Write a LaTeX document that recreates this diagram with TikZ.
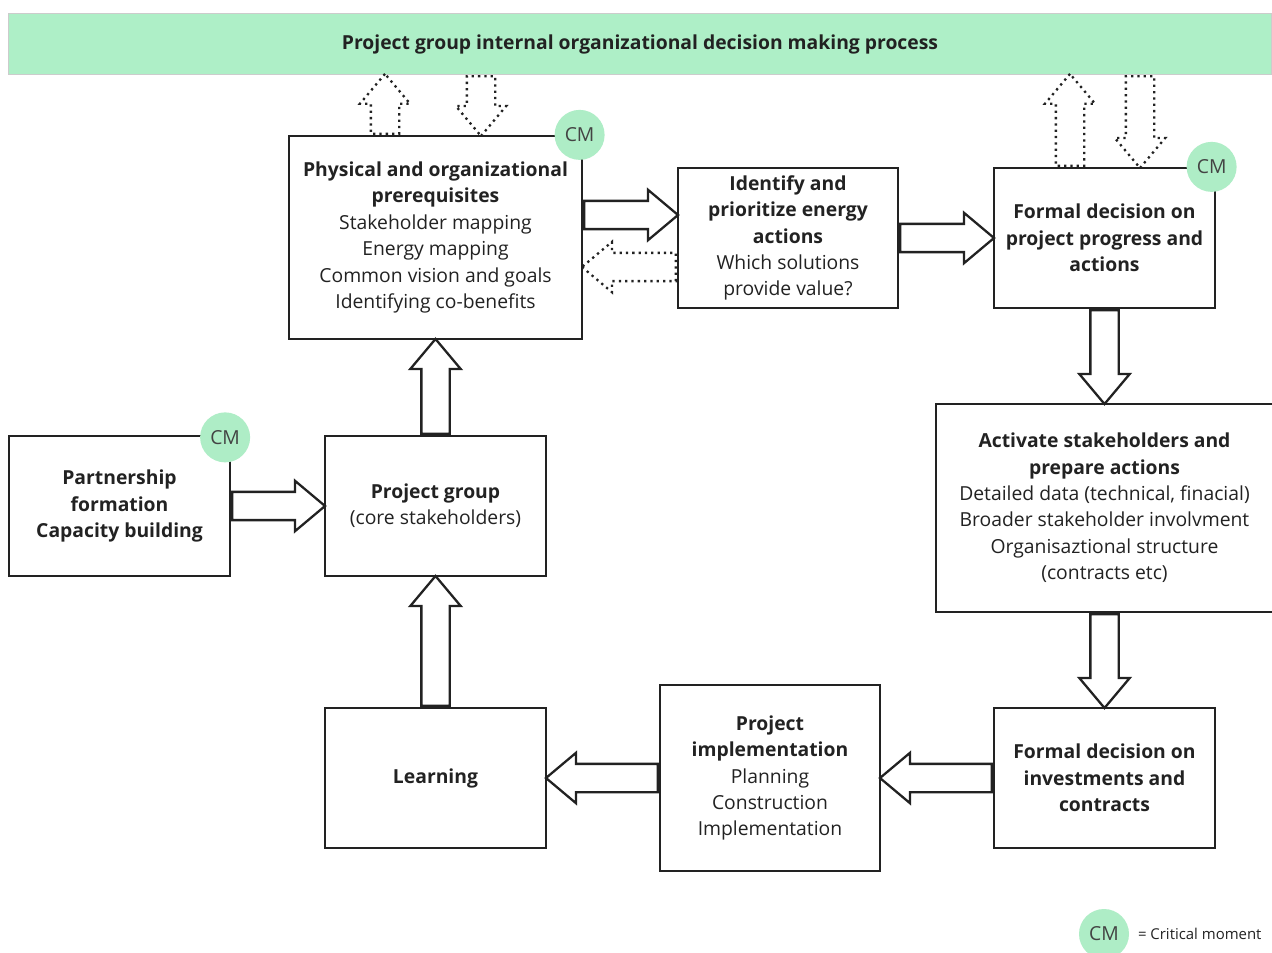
\documentclass[tikz,border=0pt]{standalone}
\usepackage{fontspec}
\setmainfont{Open Sans}
\usetikzlibrary{shapes.arrows, positioning, calc}
\definecolor{cmgreen}{HTML}{AEEDC6}
\definecolor{bargreen}{HTML}{AEEFC7}
\definecolor{ink}{HTML}{222222}
\tikzset{
    box/.style={
        rectangle, draw=ink, line width=1.3pt,
        minimum width=4.42cm, minimum height=2.8cm,
        align=center, text=ink,
        font=\fontsize{11}{15}\selectfont,
    },
    topbar/.style={
        rectangle, draw=gray!40, fill=bargreen, line width=0.6pt,
        minimum width=25.28cm, minimum height=1.22cm,
        font=\fontsize{11}{15}\selectfont\bfseries, text=ink,
    },
    critmark/.style={
        circle, fill=cmgreen, minimum size=1cm, inner sep=0pt,
        font=\fontsize{11}{15}\selectfont, text=ink!85,
    },
    barrow/.style={
        single arrow, draw=ink, fill=white, line width=1.3pt,
        inner xsep=0pt, inner ysep=0.26cm, minimum width=0pt,
        single arrow head extend=0.22cm, single arrow tip angle=80,
    },
    dotarrow/.style={
        barrow, fill=none, dash pattern=on 1.3pt off 2.3pt,
    },
}
% block arrow from one anchor to another
\newcommand{\flow}[3][barrow]{%
    \path let \p1 = ($(#3)-(#2)$),
              \n1 = {veclen(\x1,\y1)},
              \n2 = {atan2(\y1,\x1)} in
        node[#1, minimum height=\n1, rotate=\n2, anchor=tail] at (#2) {};
}

\begin{document}
\begin{tikzpicture}[x=0.02cm, y=-0.02cm]

    \path[fill=white] (0,0) rectangle (1272,953);
    \useasboundingbox (0,0) rectangle (1272,953);

    % -- top process bar --
    \node[topbar] (bar) at (640,44) {Project group internal organizational decision making process};

    % -- upper row --
    \node[box, minimum width=5.86cm, minimum height=4.06cm] (phys) at (435.5,237.5)
        {\textbf{Physical and organizational}\\\textbf{prerequisites}\\Stakeholder mapping\\Energy mapping\\Common vision and goals\\Identifying co-benefits};
    \node[box, minimum width=4.4cm] (ident) at (788,238)
        {\textbf{Identify and}\\\textbf{prioritize energy}\\\textbf{actions}\\Which solutions\\provide value?};
    \node[box] (formal1) at (1104.5,238)
        {\textbf{Formal decision on}\\\textbf{project progress and}\\\textbf{actions}};

    % -- middle row --
    \node[box] (partner) at (119.5,506)
        {\textbf{Partnership}\\\textbf{formation}\\\textbf{Capacity building}};
    \node[box] (pgroup) at (435.5,506)
        {\textbf{Project group}\\(core stakeholders)};
    \node[box, minimum width=6.74cm, minimum height=4.16cm] (activate) at (1104.5,508)
        {\textbf{Activate stakeholders and}\\\textbf{prepare actions}\\Detailed data (technical, finacial)\\Broader stakeholder involvment\\Organisaztional structure\\(contracts etc)};

    % -- lower row --
    \node[box] (learn) at (435.5,778) {\textbf{Learning}};
    \node[box, minimum width=4.4cm, minimum height=3.72cm] (impl) at (770,778)
        {\textbf{Project}\\\textbf{implementation}\\Planning\\Construction\\Implementation};
    \node[box] (formal2) at (1104.5,778)
        {\textbf{Formal decision on}\\\textbf{investments and}\\\textbf{contracts}};

    % -- critical moments --
    \node[critmark] (cmphys)    at ([xshift=-0.07cm]phys.north east)    {CM};
    \node[critmark] (cmformal)  at ([xshift=-0.09cm]formal1.north east) {CM};
    \node[critmark] (cmpartner) at ([shift={(-0.12cm,-0.05cm)}]partner.north east) {CM};

    % -- block arrows --
    \flow{phys.east |- 0,215}{ident.west |- 0,215}
    \flow[dotarrow]{ident.west |- 0,267}{phys.east |- 0,267}
    \flow{ident.east}{formal1.west}
    \flow{formal1.south}{activate.north}
    \flow{activate.south}{formal2.north}
    \flow{formal2.west}{impl.east}
    \flow{impl.west}{learn.east}
    \flow{learn.north}{pgroup.south}
    \flow{pgroup.north}{phys.south}
    \flow{partner.east}{pgroup.west}

    % -- exchange with the process bar --
    \flow[dotarrow]{phys.north -| 385,0}{bar.south -| 385,0}
    \flow[dotarrow]{bar.south -| 481,0}{phys.north -| 481,0}
    \flow[dotarrow]{formal1.north -| 1070,0}{bar.south -| 1070,0}
    \flow[dotarrow]{bar.south -| 1140,0}{formal1.north -| 1140,0}

    % -- legend --
    \node[critmark] (legcm) at (1104,934) {CM};
    \node[right=0.05cm of legcm, font=\fontsize{8.5}{10}\selectfont, text=ink] (legtext) {= Critical moment};

\end{tikzpicture}
\end{document}
